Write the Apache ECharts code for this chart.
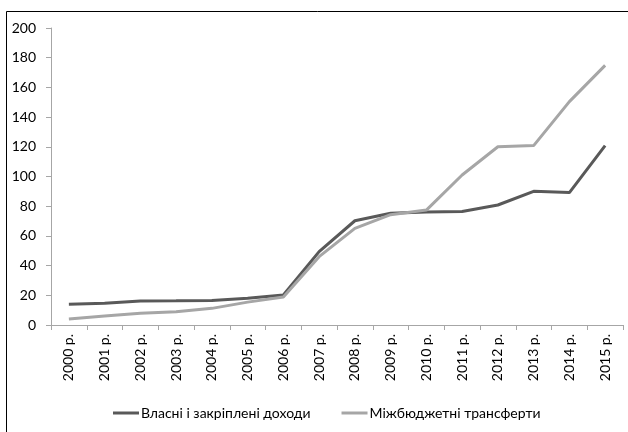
<!DOCTYPE html>
<html><head><meta charset="utf-8">
<script src="https://cdn.jsdelivr.net/npm/echarts@6/dist/echarts.min.js"></script>
<style>html,body{margin:0;padding:0;background:#fff}#c{width:628px;height:432px}</style>
</head><body><div id="c"></div>
<script>
const categories = ['2000 р.','2001 р.','2002 р.','2003 р.','2004 р.','2005 р.','2006 р.','2007 р.','2008 р.','2009 р.','2010 р.','2011 р.','2012 р.','2013 р.','2014 р.','2015 р.'];
const ownRevenue = [14, 14.6, 16.2, 16.3, 16.5, 18, 20.2, 49.4, 70.2, 75.2, 76.1, 76.4, 80.8, 90, 89.2, 120.8];
const transfers = [4, 6, 7.9, 9, 11.2, 15.4, 18.8, 46, 65.1, 74.3, 77.4, 101, 120, 120.8, 150.4, 174.8];
const seriesNames = ['Власні і закріплені доходи', 'Міжбюджетні трансферти'];
const yTicks = {min: 0, max: 200, interval: 20};

const font = 'Lato';
const chart = echarts.init(document.getElementById('c'));
chart.setOption({
  animation: false,
  backgroundColor: '#fff',
  graphic: [{type: 'rect', shape: {x: 6.5, y: 11.5, width: 700, height: 500}, style: {fill: 'none', stroke: '#000', lineWidth: 1}, z: 100}],
  grid: {left: 51, right: 5, top: 28, bottom: 107, containLabel: false},
  legend: {
    top: 406, left: 113, itemWidth: 26, itemHeight: 3, itemGap: 31,
    icon: 'rect', padding: 0,
    textStyle: {fontFamily: font, fontSize: 14, color: '#000', padding: [0,0,0,-3]},
    data: seriesNames
  },
  xAxis: {
    type: 'category', data: categories, boundaryGap: true,
    axisLine: {lineStyle: {color: '#a6a6a6', width: 1}},
    axisTick: {show: true, length: 5, alignWithLabel: false, lineStyle: {color: '#a6a6a6'}},
    axisLabel: {rotate: 90, interval: 0, fontFamily: font, fontSize: 14, color: '#000', margin: 9}
  },
  yAxis: {
    type: 'value', min: yTicks.min, max: yTicks.max, interval: yTicks.interval,
    axisLine: {show: true, lineStyle: {color: '#a6a6a6', width: 1}},
    axisTick: {show: true, length: 5, lineStyle: {color: '#a6a6a6'}},
    splitLine: {show: false},
    axisLabel: {fontFamily: font, fontSize: 14, color: '#000', margin: 15}
  },
  series: [
    {name: seriesNames[0], type: 'line', data: ownRevenue, symbol: 'none', lineStyle: {color: '#595959', width: 3}, itemStyle: {color: '#595959'}},
    {name: seriesNames[1], type: 'line', data: transfers, symbol: 'none', lineStyle: {color: '#a6a6a6', width: 3}, itemStyle: {color: '#a6a6a6'}}
  ]
});
</script></body></html>
